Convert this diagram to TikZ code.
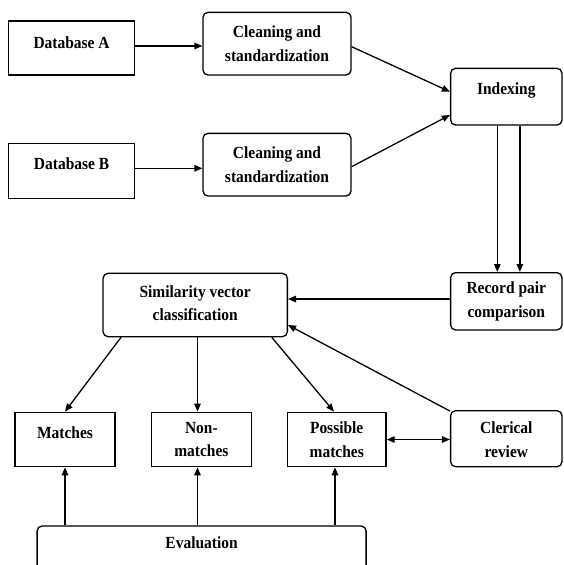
\documentclass[tikz,border=0pt]{standalone}
\usepackage{fontspec}
\setmainfont[FakeStretch=0.91]{Liberation Serif}
\usetikzlibrary{arrows.meta,calc}
\begin{document}
\begin{tikzpicture}[x=1pt,y=-1pt,
  box/.style={draw, line width=1.3pt, inner sep=0pt},
  sbox/.style={box},
  rbox/.style={box, rounded corners=5pt},
  lbl/.style={font=\fontsize{17}{23.6}\selectfont\bfseries, align=center, inner sep=0pt},
  arr/.style={line width=1.3pt, -{Triangle[length=8pt,width=6.5pt]}},
  darr/.style={line width=1.3pt, {Triangle[length=8pt,width=6.5pt]}-{Triangle[length=8pt,width=6.5pt]}}]
\useasboundingbox (0,0) rectangle (563,565);
\clip (0,0) rectangle (563,565);
% boxes
\node[sbox, minimum width=126pt, minimum height=54pt] (dbA) at (71.6,48) {};
\node[lbl] (dbAt) at (71.6,43) {Database A};
\node[rbox, minimum width=148pt, minimum height=62.7pt] (clA) at (277,43.7) {};
\node[lbl] (clAt) at (277,43.7) {Cleaning and\\standardization};
\node[rbox, minimum width=111.4pt, minimum height=56.7pt] (idx) at (506.3,96.7) {};
\node[lbl] (idxt) at (506.3,90) {Indexing};
\node[sbox, minimum width=126pt, minimum height=55pt] (dbB) at (71.6,170.8) {};
\node[lbl] (dbBt) at (71.6,164) {Database B};
\node[rbox, minimum width=148pt, minimum height=62.7pt] (clB) at (277,164.7) {};
\node[lbl] (clBt) at (277,164.7) {Cleaning and\\standardization};
\node[rbox, minimum width=111.4pt, minimum height=57.3pt] (rec) at (506.3,301.3) {};
\node[lbl] (rect) at (506.3,301.3) {Record pair\\comparison};
\node[rbox, minimum width=184.3pt, minimum height=63.4pt] (sim) at (195.2,305) {};
\node[lbl] (simt) at (195.2,303) {Similarity vector\\classification};
\node[sbox, minimum width=100pt, minimum height=54.4pt] (mat) at (65,439.5) {};
\node[lbl] (matt) at (65,433) {Matches};
\node[sbox, minimum width=99.8pt, minimum height=54.4pt] (non) at (201.4,439.5) {};
\node[lbl] (nont) at (201.4,439.5) {Non-\\matches};
\node[sbox, minimum width=98.7pt, minimum height=54.4pt] (pos) at (336.7,439.5) {};
\node[lbl] (post) at (336.7,439.5) {Possible\\matches};
\node[rbox, minimum width=111.4pt, minimum height=56pt] (cle) at (506.3,438.7) {};
\node[lbl] (clet) at (506.3,439.5) {Clerical\\review};
\node[rbox, minimum width=329pt, minimum height=64pt] (eva) at (201.6,558) {};
\node[lbl] (evat) at (201.6,543) {Evaluation};
% connectors
\path ([yshift=2pt]dbA.east) coordinate (a1);
\draw[arr] (a1) -- (a1 -| clA.west);
\path ([yshift=2.5pt]dbB.east) coordinate (b1);
\draw[arr] (b1) -- (b1 -| clB.west);
\draw[arr] ([yshift=-3pt]clA.east) -- ([yshift=5pt]idx.west);
\draw[arr] ([yshift=-2pt]clB.east) -- ([yshift=-18.3pt]idx.west);
\draw[arr] ([xshift=-9pt]idx.south) -- ([xshift=-9pt]rec.north);
\draw[arr] ([xshift=13.6pt]idx.south) -- ([xshift=13.6pt]rec.north);
\path ([yshift=2.3pt]rec.west) coordinate (r1);
\draw[arr] (r1) -- (r1 -| sim.east);
\draw[arr] ([yshift=-1pt]cle.north west) -- ([yshift=-20pt]sim.east);
\draw[arr] ([xshift=-74.2pt]sim.south) -- (mat.north);
\path ([xshift=2.3pt]sim.south) coordinate (s2);
\draw[arr] (s2) -- (s2 |- non.north);
\draw[arr] ([xshift=76.6pt]sim.south) -- ([xshift=-2.7pt]pos.north);
\draw[darr] (pos.east) -- (pos.east -| cle.west);
\draw[arr] (mat.south |- eva.north) -- (mat.south);
\draw[arr] (s2 |- eva.north) -- (s2 |- non.south);
\draw[arr] ([xshift=-1.7pt]pos.south |- eva.north) -- ([xshift=-1.7pt]pos.south);
\end{tikzpicture}
\end{document}
